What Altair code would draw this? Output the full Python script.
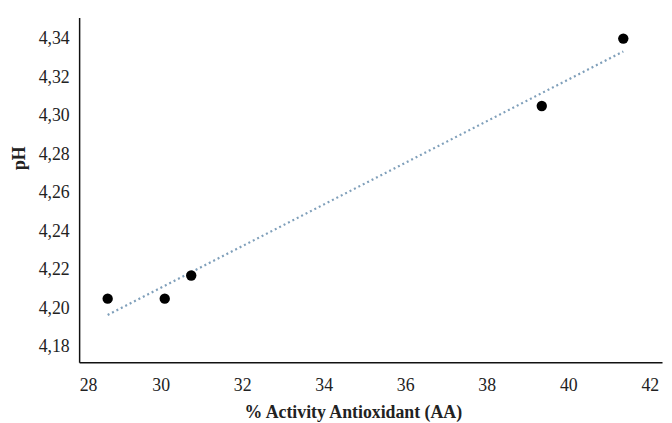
import altair as alt
import pandas as pd

activity = [28.7, 30.1, 30.75, 39.35, 41.35]
ph = [4.205, 4.205, 4.217, 4.305, 4.34]

df = pd.DataFrame({"aa": activity, "ph": ph})

FONT = "Liberation Serif"

x_enc = alt.X(
    "aa:Q",
    scale=alt.Scale(domain=[28, 42.3], nice=False, zero=False),
    axis=alt.Axis(
        title="% Activity Antioxidant (AA)",
        values=[28, 30, 32, 34, 36, 38, 40, 42],
        ticks=False, grid=False, domainColor="#111", domainWidth=1.5,
        labelFont=FONT, labelFontSize=18, labelColor="#222", labelPadding=15,
        titleFont=FONT, titleFontSize=18, titleFontWeight="bold", titleColor="#222",
        titlePadding=9, titleX=277, titleAlign="center",
    ),
)
y_enc = alt.Y(
    "ph:Q",
    scale=alt.Scale(domain=[4.172, 4.351], nice=False, zero=False),
    axis=alt.Axis(
        title="pH",
        values=[4.18, 4.20, 4.22, 4.24, 4.26, 4.28, 4.30, 4.32, 4.34],
        labelExpr="replace(format(datum.value, '.2f'), '.', ',')",
        ticks=False, grid=False, domainColor="#111", domainWidth=1.5,
        labelFont=FONT, labelFontSize=18, labelColor="#222", labelPadding=10,
        titleFont=FONT, titleFontSize=18, titleFontWeight="bold", titleColor="#222",
        titleX=-60, titleY=142, titleAlign="center", titleBaseline="middle", titleAngle=-90,
    ),
)

trend = alt.Chart(df).transform_regression("aa", "ph").mark_line(
    color="#7f9fba", strokeDash=[2, 3], strokeWidth=2.2
).encode(x=x_enc, y=y_enc)

points = alt.Chart(df).mark_circle(color="black", opacity=1, size=110).encode(x=x_enc, y=y_enc)

chart = alt.layer(trend, points).properties(
    width=590, height=349,
    autosize=alt.AutoSizeParams(type="none"),
    padding={"left": 72, "top": 7, "right": 2, "bottom": 59},
).configure_view(stroke=None)

chart.save("out.html", embed_options={"renderer": "svg", "actions": False})
